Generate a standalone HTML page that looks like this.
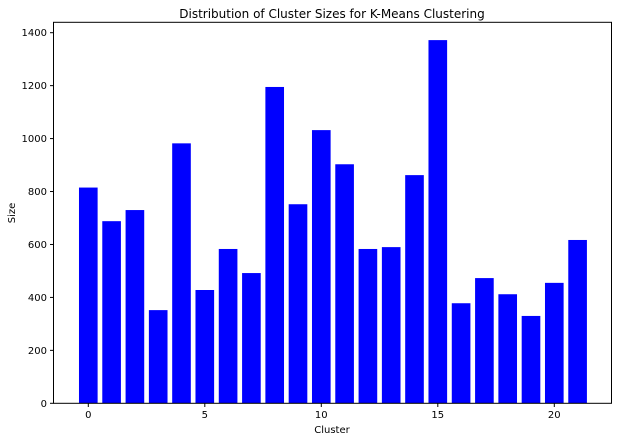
<!DOCTYPE html>
<html><head><meta charset="utf-8"><style>
body{margin:0;background:#fff}
svg text{font-family:"DejaVu Sans","Liberation Sans",sans-serif;fill:#000}
</style></head><body>
<svg id="chart" width="618" height="441" xmlns="http://www.w3.org/2000/svg">
<rect width="618" height="441" fill="#fff"/>
<text x="332" y="18" font-size="12" text-anchor="middle">Distribution of Cluster Sizes for K-Means Clustering</text>
<text x="332" y="433" font-size="10" text-anchor="middle">Cluster</text>
<text x="15" y="213" font-size="10" text-anchor="middle" transform="rotate(-90 15 213)">Size</text>
<g id="bars"></g><g id="ticks"></g>
<rect x="53.5" y="22.3" width="558" height="381" fill="none" stroke="#000" stroke-width="1"/>
</svg>
<script>
const categories=[0,1,2,3,4,5,6,7,8,9,10,11,12,13,14,15,16,17,18,19,20,21];
const sizes=[815,688,730,352,982,428,583,492,1195,752,1032,903,583,590,862,1372,378,473,412,330,455,617];
const xTicks=[0,5,10,15,20];
const yTicks=[0,200,400,600,800,1000,1200,1400];
const NS="http://www.w3.org/2000/svg";
const U=23.3;
const x=v=>88.3+v*U;
const y=v=>403.3-v*(370.6/1400);
const bars=document.getElementById('bars'),ticks=document.getElementById('ticks');
categories.forEach((c,i)=>{
 const r=document.createElementNS(NS,'rect');
 r.setAttribute('x',x(c)-0.4*U);r.setAttribute('width',0.8*U);
 r.setAttribute('y',y(sizes[i]));r.setAttribute('height',y(0)-y(sizes[i]));
 r.setAttribute('fill','#0000ff');
 
 
 bars.appendChild(r);
});
xTicks.forEach(t=>{
 const l=document.createElementNS(NS,'line');
 l.setAttribute('x1',x(t));l.setAttribute('x2',x(t));l.setAttribute('y1',403.3);l.setAttribute('y2',407);l.setAttribute('stroke','#000');
 
 
 ticks.appendChild(l);
 const tx=document.createElementNS(NS,'text');
 tx.setAttribute('x',x(t));tx.setAttribute('y',418);tx.setAttribute('font-size','10');tx.setAttribute('text-anchor','middle');tx.textContent=t;
 
 
 ticks.appendChild(tx);
});
yTicks.forEach(t=>{
 const l=document.createElementNS(NS,'line');
 l.setAttribute('x1',50);l.setAttribute('x2',53.5);l.setAttribute('y1',y(t));l.setAttribute('y2',y(t));l.setAttribute('stroke','#000');
 
 
 ticks.appendChild(l);
 const tx=document.createElementNS(NS,'text');
 tx.setAttribute('x',47);tx.setAttribute('y',y(t)+3.5);tx.setAttribute('font-size','10');tx.setAttribute('text-anchor','end');tx.textContent=t;
 
 
 ticks.appendChild(tx);
});
</script>
</body></html>
